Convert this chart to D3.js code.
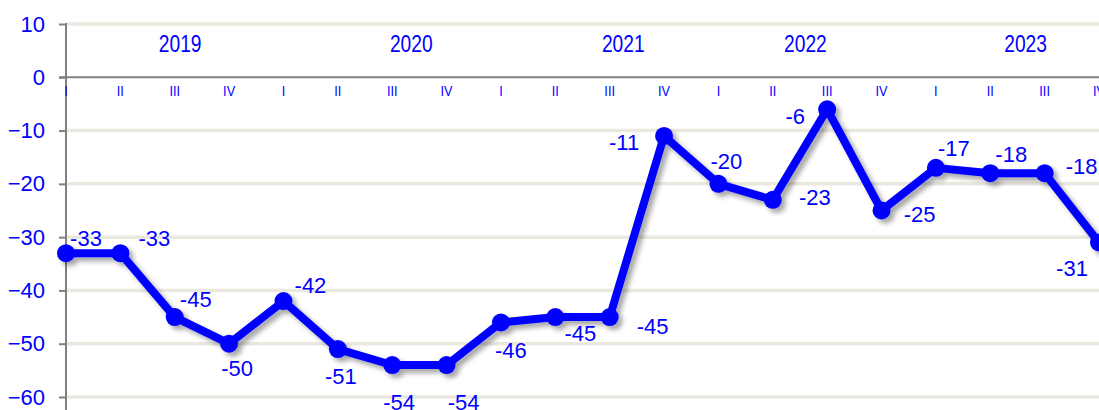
<!DOCTYPE html>
<html><head><meta charset="utf-8">
<script src="https://cdn.jsdelivr.net/npm/d3@7"></script>
<style>
html,body{margin:0;padding:0;background:#fff;overflow:hidden}
text{font-family:"Liberation Sans",Arial,sans-serif}
</style></head>
<body>
<svg id="c" width="1099" height="410"></svg>
<script>
const quarters = ["I","II","III","IV","I","II","III","IV","I","II","III","IV","I","II","III","IV","I","II","III","IV"];
const years = ["2019","2020","2021","2022","2023"];
const yearPos = [2.1, 6.35, 10.25, 13.6, 17.65];
const values = [-33,-33,-45,-50,-42,-51,-54,-54,-46,-45,-45,-11,-20,-23,-6,-25,-17,-18,-18,-31];
const yTicks = [10,0,-10,-20,-30,-40,-50,-60];
// label placement offsets (px) relative to each point
const labelDx = [20,34,21,8,27,3,7,17,10,25,43,-40,8,42,-32,38,18,21,37,-27];
const labelDy = [-15,-15,-18,24,-16,27,37,37,28,16,9,6,-23,-3,7,3,-20,-19,-7,26];

const svg = d3.select("#c");
const x = d3.scaleLinear().domain([0, quarters.length-1]).range([66, 1099]);
const y = d3.scaleLinear().domain([-60, 10]).range([397, 24]);
const blue = "#0000ff";

const defs = svg.append("defs");
const f = defs.append("filter").attr("id","sh").attr("x","-20%").attr("y","-20%").attr("width","140%").attr("height","140%");
f.append("feDropShadow").attr("dx",4).attr("dy",4).attr("stdDeviation",2.5).attr("flood-color","#000").attr("flood-opacity",0.35);

// gridlines
svg.append("g").selectAll("line").data(yTicks.filter(d=>d!==0)).join("line")
  .attr("x1",66).attr("x2",1099).attr("y1",d=>y(d)).attr("y2",d=>y(d))
  .attr("stroke","#ebe8df").attr("stroke-width",3.5);

// y axis
const yAxis = d3.axisLeft(y).tickValues(yTicks).tickSize(7).tickPadding(14).tickFormat(d3.format("d"));
const ga = svg.append("g").attr("transform","translate(66,0)").call(yAxis);
ga.select(".domain").remove();
ga.selectAll(".tick line").attr("stroke","#808080").attr("stroke-width",2);
ga.selectAll(".tick text").attr("fill",blue).attr("font-size",22).attr("font-family","Liberation Sans, Arial, sans-serif");
svg.append("line").attr("x1",66).attr("x2",66).attr("y1",23).attr("y2",410).attr("stroke","#808080").attr("stroke-width",2);

// zero category axis
svg.append("line").attr("x1",59).attr("x2",1099).attr("y1",y(0)).attr("y2",y(0)).attr("stroke","#808080").attr("stroke-width",2);

// quarter labels (condensed)
svg.append("g").selectAll("text").data(quarters).join("text")
  .attr("transform",(d,i)=>`translate(${x(i)},${y(0)+19}) scale(0.85,1)`)
  .attr("text-anchor","middle")
  .attr("fill",blue).attr("font-size",15).text(d=>d);

// year labels (condensed)
svg.append("g").selectAll("text").data(years).join("text")
  .attr("transform",(d,i)=>`translate(${x(yearPos[i])},${y(0)-25}) scale(0.8,1)`)
  .attr("text-anchor","middle")
  .attr("fill",blue).attr("font-size",24).text(d=>d);

// line
const g = svg.append("g").attr("filter","url(#sh)");
g.append("path").datum(values)
  .attr("d", d3.line().x((d,i)=>x(i)).y(d=>y(d)))
  .attr("fill","none").attr("stroke",blue).attr("stroke-width",8).attr("stroke-linejoin","round");
g.selectAll("circle").data(values).join("circle")
  .attr("cx",(d,i)=>x(i)).attr("cy",d=>y(d)).attr("r",9).attr("fill",blue);

// data labels
svg.append("g").selectAll("text").data(values).join("text")
  .attr("x",(d,i)=>x(i)+labelDx[i]).attr("y",(d,i)=>y(d)+labelDy[i]+8)
  .attr("text-anchor","middle").attr("fill",blue).attr("font-size",22).text(d=>d);
</script>
</body></html>
